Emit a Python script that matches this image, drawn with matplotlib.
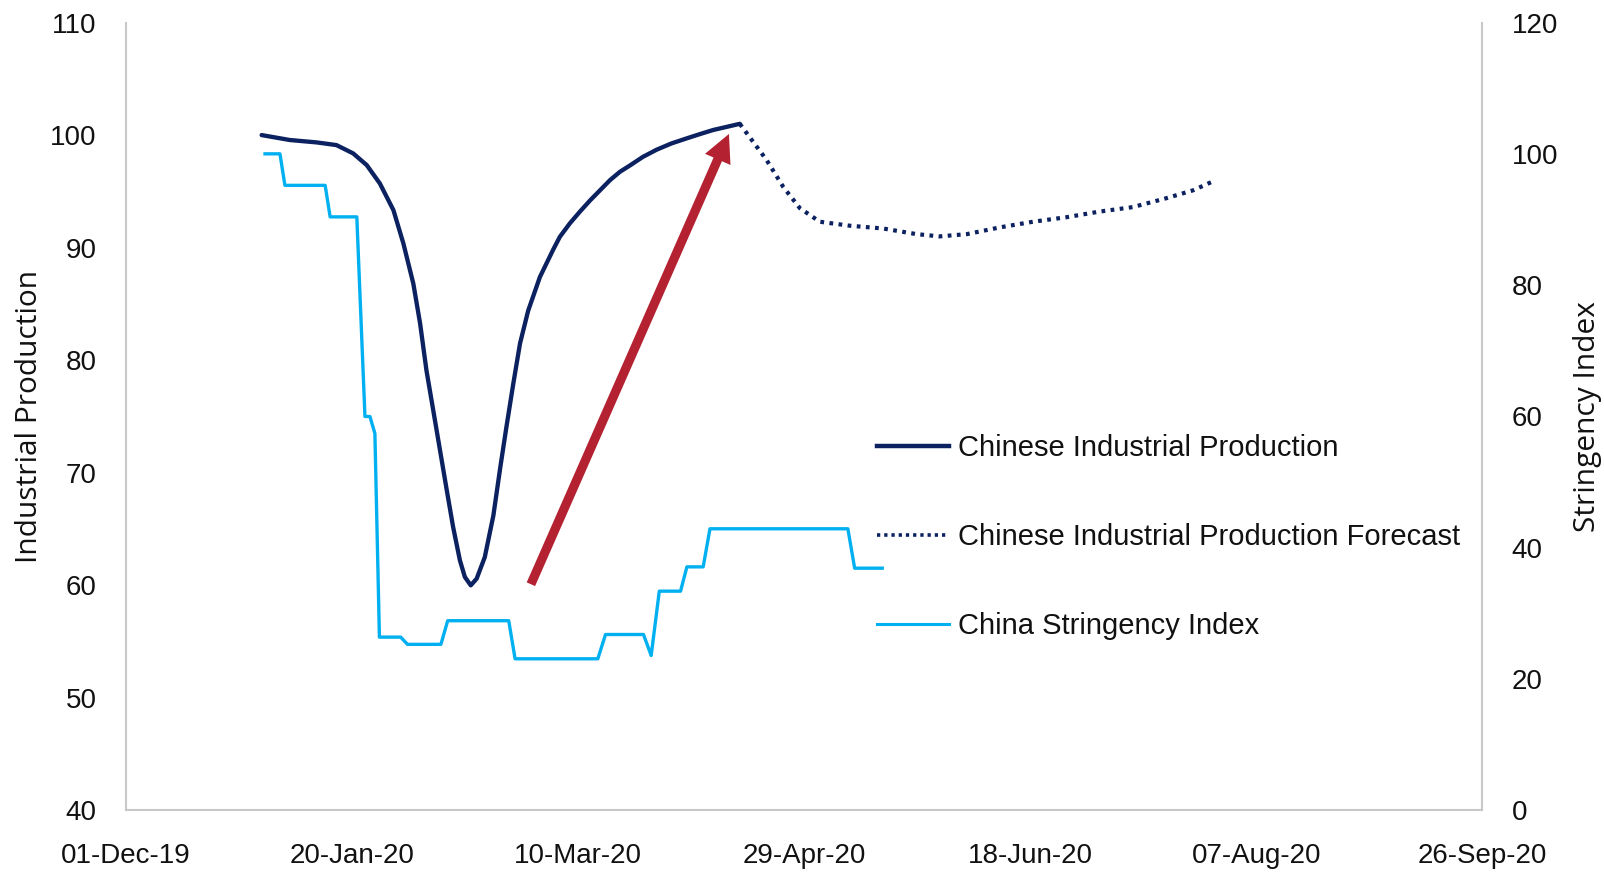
import matplotlib
matplotlib.use("Agg")
import matplotlib.pyplot as plt
import matplotlib.dates as mdates
import pandas as pd
from matplotlib.lines import Line2D

# ---------------- data ----------------
start_date = "2019-12-01"

# Chinese Industrial Production (days after 01-Dec-19, index level)
ip_days = [30.05, 36.3, 42.2, 46.6, 50.3, 53.3, 56.2, 59.2, 61.4, 63.6, 65.1, 66.5,
           68.0, 69.5, 71.0, 72.4, 73.9, 75.0, 76.3, 77.6, 79.4, 81.3, 82.8, 84.2,
           85.7, 87.2, 89.0, 91.6, 94.5, 96.0, 98.2, 100.4, 102.7, 104.9, 107.1,
           109.3, 111.5, 114.4, 117.4, 120.7, 124.0, 127.0, 129.9, 135.8]
ip_vals = [100.0, 99.56, 99.35, 99.11, 98.37, 97.33, 95.7, 93.33, 90.37, 86.8, 83.26, 79.1,
           75.56, 72.0, 68.44, 65.18, 62.22, 60.74, 60.0, 60.59, 62.5, 66.2, 70.4, 74.1,
           77.9, 81.5, 84.4, 87.4, 89.8, 90.96, 92.15, 93.18, 94.2, 95.1, 96.0,
           96.74, 97.3, 98.07, 98.7, 99.26, 99.7, 100.09, 100.45, 101.0]

# Chinese Industrial Production Forecast
fc_days = [135.8, 141.7, 145.4, 149.1, 153.5, 160.1, 167.5, 174.9, 180.0, 186.0,
           193.3, 200.6, 208.0, 215.3, 222.7, 230.2, 236.1, 240.5]
fc_vals = [101.0, 97.8, 95.4, 93.5, 92.3, 91.95, 91.7, 91.2, 91.0, 91.2,
           91.8, 92.3, 92.7, 93.2, 93.6, 94.4, 95.1, 95.9]

# China Stringency Index (right axis)
si_days = [30.8, 34.1, 35.2, 44.1, 45.2, 51.1, 52.9, 54.0, 55.1, 56.1, 60.8, 62.3,
           69.7, 71.2, 84.7, 86.1, 104.4, 106.1, 114.5, 116.2, 118.0, 122.7, 124.1,
           127.7, 129.2, 159.7, 161.2, 167.3]
si_vals = [100.0, 100.0, 95.2, 95.2, 90.4, 90.4, 60.0, 60.0, 57.4, 26.4, 26.4, 25.3,
           25.3, 28.9, 28.9, 23.1, 23.1, 26.8, 26.8, 23.6, 33.4, 33.4, 37.1,
           37.1, 42.9, 42.9, 36.9, 36.9]

# red arrow annotation (tail -> tip), days / left-axis value
arrow_days = [89.6, 133.4]
arrow_vals = [60.1, 100.1]

x_tick_step_days = 50
x_span_days = 300
left_ticks = [40, 50, 60, 70, 80, 90, 100, 110]
right_ticks = [0, 20, 40, 60, 80, 100, 120]

labels = ["Chinese Industrial Production",
          "Chinese Industrial Production Forecast",
          "China Stringency Index"]

# ---------------- helpers ----------------
base = pd.Timestamp(start_date)
def to_dates(days):
    return base + pd.to_timedelta(days, unit="D")

NAVY = "#0b2160"
LBLUE = "#00b0f0"
RED = "#b42232"
GRID = "#c8c8c8"
TICKFONT = ["Liberation Sans", "DejaVu Sans"]
LEGFONT = ["Liberation Sans", "DejaVu Sans"]
LABFONT = ["Open Sans", "DejaVu Sans"]

fig = plt.figure(figsize=(16.04, 8.76), dpi=100)
ax = fig.add_axes([0.0784, 0.0748, 0.9241 - 0.0784, 0.9743 - 0.0748])
ax2 = ax.twinx()

l1, = ax.plot(to_dates(ip_days), ip_vals, color=NAVY, lw=3.1,
              solid_capstyle="round", solid_joinstyle="round", zorder=3)
l2, = ax.plot(to_dates(fc_days), fc_vals, color=NAVY, lw=3.0,
              linestyle=(0, (0.9, 1.3)), zorder=3)
l3, = ax2.plot(to_dates(si_days), si_vals, color=LBLUE, lw=2.4,
               solid_joinstyle="round", zorder=3)

ad = to_dates(arrow_days)
ax.annotate("", xy=(ad[1], arrow_vals[1]), xytext=(ad[0], arrow_vals[0]),
            arrowprops=dict(arrowstyle="simple,head_length=1.0,head_width=1.0,tail_width=0.33",
                            mutation_scale=20, color=RED, lw=0,
                            shrinkA=0, shrinkB=0), zorder=4)

# axes limits / ticks
ax.set_xlim(base, base + pd.Timedelta(days=x_span_days))
ax.set_xticks(list(to_dates(list(range(0, x_span_days + 1, x_tick_step_days)))))
ax.xaxis.set_major_formatter(mdates.DateFormatter("%d-%b-%y"))
ax.set_ylim(40, 110)
ax.set_yticks(left_ticks)
ax2.set_ylim(0, 120)
ax2.set_yticks(right_ticks)

for a in (ax, ax2):
    for s in a.spines.values():
        s.set_visible(False)
ax.spines["left"].set_visible(True)
ax.spines["bottom"].set_visible(True)
ax2.spines["right"].set_visible(True)
for s in (ax.spines["left"], ax.spines["bottom"], ax2.spines["right"]):
    s.set_color(GRID)
    s.set_linewidth(1.5)

ax.tick_params(axis="x", length=0, pad=23.5, labelsize=20)
ax.tick_params(axis="y", length=0, pad=21, labelsize=20)
ax2.tick_params(axis="y", length=0, pad=21, labelsize=20)
for lab in ax.get_xticklabels() + ax.get_yticklabels() + ax2.get_yticklabels():
    lab.set_family(TICKFONT)
    lab.set_color("#111111")

ax.set_ylabel("Industrial Production", family=LABFONT, fontsize=21.5, color="#111111")
ax2.set_ylabel("Stringency Index", family=LABFONT, fontsize=21.5, color="#111111",
               rotation=90)
ax.yaxis.set_label_coords(-0.060, 0.5)
ax2.yaxis.set_label_coords(1.067, 0.5)

# legend
h1 = Line2D([], [], color=NAVY, lw=3.2)
h2 = Line2D([], [], color=NAVY, lw=2.6, linestyle=(0, (0.9, 1.1)))
h3 = Line2D([], [], color=LBLUE, lw=2.2)
leg = ax.legend([h1, h2, h3], labels, loc="center left",
                bbox_to_anchor=(0.547, 0.3867), bbox_transform=fig.transFigure,
                frameon=False, prop=dict(family=LEGFONT, size=21),
                handlelength=2.47, handletextpad=0.31, labelspacing=2.09,
                borderpad=0, borderaxespad=0)
for t in leg.get_texts():
    t.set_color("#111111")

fig.savefig("out.png", dpi=100)
